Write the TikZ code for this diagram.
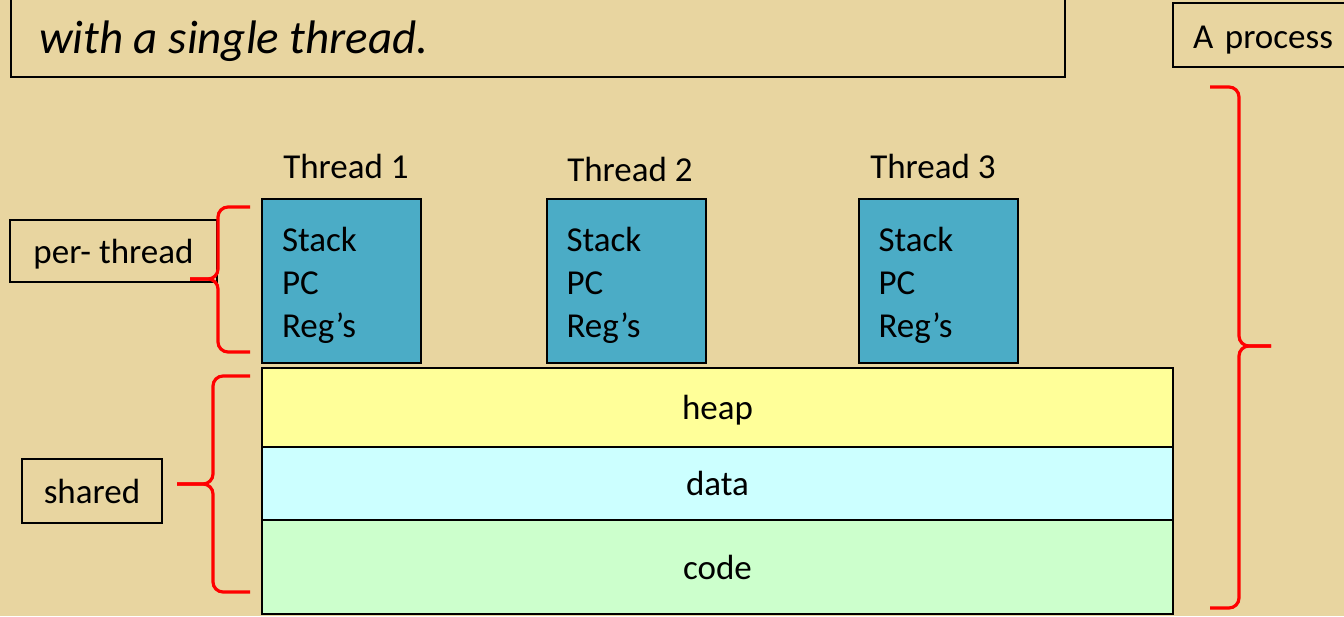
\documentclass[tikz,border=0pt]{standalone}
\usepackage{fontspec}
\setmainfont{Carlito}
\usetikzlibrary{positioning}

\definecolor{papyrus}{RGB}{232,213,160}
\definecolor{threadblue}{RGB}{75,172,198}
\definecolor{heapyellow}{RGB}{255,255,153}
\definecolor{datacyan}{RGB}{204,255,255}
\definecolor{codegreen}{RGB}{204,255,204}
\definecolor{bracered}{RGB}{255,0,0}

\tikzset{
  box/.style={draw=black, line width=1pt, inner sep=0pt, outer sep=0pt},
  threadbox/.style={box, fill=threadblue, minimum width=79.5pt, minimum height=82pt,
    text width=59.5pt, inner xsep=10pt, align=left},
  segment/.style={box, minimum width=455.5pt, text depth=-2pt},
  curly/.style={draw=bracered, line width=1.6pt, rounded corners=5pt},
}

\begin{document}
\begin{tikzpicture}[x=0.5pt, y=-0.5pt, font=\fontsize{17.5}{21.5}\selectfont]
  \clip (0,0) rectangle (1344,616);
  \fill[papyrus] (0,0) rectangle (1344,616);

  % heading box, its top is cut by the page
  \node[box, anchor=south west, minimum width=527pt, minimum height=60pt] (title) at (11,77) {};
  \node[anchor=base west, font=\fontsize{23.5}{28}\selectfont\itshape] (titletext) at (32,53) {with a single thread.};
  \node[box, anchor=north west, minimum height=32pt, text width=80pt, inner xsep=10pt, align=left] (process) at (1173,3) {\rule{0pt}{16pt}A process};

  % threads
  \node[threadbox] (t1) at (341.5,281) {\rule{0pt}{17pt}Stack\\PC\\Reg’s};
  \node[threadbox] (t2) at (626,281) {\rule{0pt}{17pt}Stack\\PC\\Reg’s};
  \node[threadbox] (t3) at (938,281) {\rule{0pt}{17pt}Stack\\PC\\Reg’s};
  \node[anchor=base] (name1) at (346,178) {Thread 1};
  \node[anchor=base] (name2) at (630,181) {Thread 2};
  \node[anchor=base] (name3) at (933,178) {Thread 3};

  % shared part
  \node[segment, fill=heapyellow, minimum height=39.5pt] (heap) at (717.5,407.5) {heap};
  \node[segment, fill=datacyan, minimum height=36.5pt, below=0pt of heap] (data) {data};
  \node[segment, fill=codegreen, minimum height=47pt, below=0pt of data] (code) {code};

  \node[box, minimum width=103.5pt, minimum height=31pt, text depth=-1pt] (perthread) at (113.5,251) {per- thread};
  \node[box, minimum width=70pt, minimum height=32pt] (shared) at (92,491) {shared};

  % braces
  \draw[curly] (250,207) -- (218,207) -- (218,279) -- (190,279);
  \draw[curly] (190,279) -- (218,279) -- (218,352) -- (250,352);
  \draw[curly] (250,376) -- (213,376) -- (213,484) -- (177,484);
  \draw[curly] (177,484) -- (213,484) -- (213,592) -- (250,592);
  \draw[curly] (1210,87) -- (1239,87) -- (1239,346) -- (1271,346);
  \draw[curly] (1271,346) -- (1239,346) -- (1239,608) -- (1210,608);
\end{tikzpicture}
\end{document}
